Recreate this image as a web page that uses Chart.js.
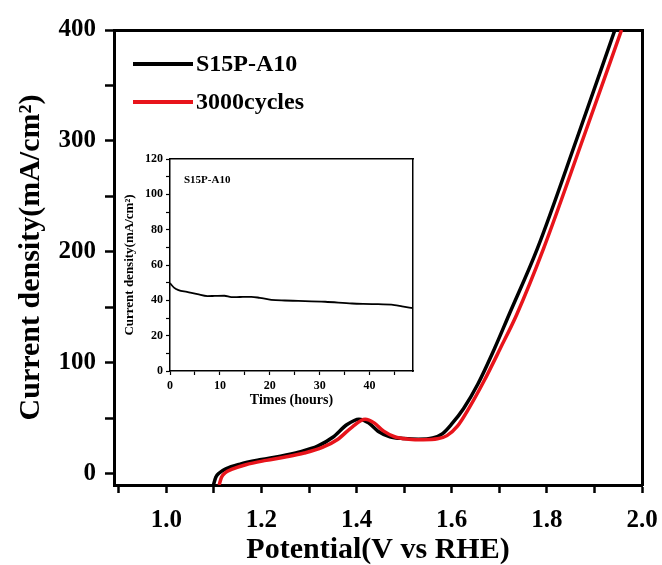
<!DOCTYPE html>
<html>
<head>
<meta charset="utf-8">
<script src="https://cdn.jsdelivr.net/npm/chart.js@4.4.1/dist/chart.umd.min.js"></script>
<style>
  body { margin: 0; background: #fff; }
  #wrap { position: relative; width: 662px; height: 565px; background: #fff; }
  #main { position: absolute; left: 0; top: 0; }
  #inset { position: absolute; left: 100px; top: 140px; }
</style>
</head>
<body>
<div id="wrap">
  <canvas id="main" width="662" height="565"></canvas>
  <canvas id="inset" width="330" height="280"></canvas>
</div>
<script>
// LSV curves, potential (V vs RHE) / current density (mA/cm2)
const seriesNames = ["S15P-A10", "3000cycles"];
const blackPotential = [1.099, 1.104, 1.112, 1.125, 1.155, 1.20, 1.24, 1.28, 1.318, 1.35, 1.38, 1.405, 1.425, 1.445, 1.47, 1.50, 1.53, 1.56, 1.58, 1.60, 1.625, 1.655, 1.69, 1.72, 1.78, 1.863, 1.943];
const blackCurrent   = [-10, -3, 1, 4.5, 8.8, 12.9, 15.9, 19.8, 25, 33, 44.5, 49.3, 46, 38.5, 33.5, 31.8, 31.2, 32.3, 36, 45, 59, 81, 113, 143, 203, 302, 400];
const redPotential   = [1.111, 1.116, 1.124, 1.137, 1.167, 1.21, 1.25, 1.29, 1.328, 1.36, 1.39, 1.418, 1.437, 1.457, 1.48, 1.51, 1.54, 1.57, 1.59, 1.612, 1.636, 1.667, 1.702, 1.736, 1.793, 1.876, 1.957];
const redCurrent     = [-10, -3, 1, 4, 8.3, 12.2, 15.2, 18.8, 23.8, 31, 42, 49.3, 46, 38.5, 33.5, 31.3, 30.8, 31.6, 34.5, 43, 59, 83, 113, 143, 203, 302, 400];
const potentialTicks = [1.0, 1.2, 1.4, 1.6, 1.8, 2.0];
const currentTicks = [0, 100, 200, 300, 400];

// inset: stability test
const insetName = "S15P-A10";
const hours = [0, 0.8, 1.7, 3.4, 5.5, 7.5, 9, 10.9, 12.3, 14, 16.3, 18, 20.3, 23, 25.7, 31.1, 36.5, 40.5, 45, 46.5, 48.7];
const insetCurrent = [49.7, 47.2, 45.8, 44.8, 43.5, 42.4, 42.5, 42.6, 41.8, 41.9, 42, 41.4, 40.3, 39.9, 39.7, 39.2, 38.2, 37.9, 37.3, 36.6, 35.6];
const hoursTicks = [0, 10, 20, 30, 40];
const insetCurrentTicks = [0, 20, 40, 60, 80, 100, 120];

const serif = "'Liberation Serif', 'Times New Roman', serif";
Chart.defaults.font.family = serif;
Chart.defaults.font.weight = 'bold';
Chart.defaults.color = '#000';

function toPoints(xs, ys) {
  return xs.map((x, i) => ({ x: x, y: ys[i] }));
}
function pickLabel(list, v, digits) {
  const t = list.find(t => Math.abs(t - v) < 1e-6);
  return t === undefined ? '' : t.toFixed(digits);
}
// fixed axis box size, no extra room for overhanging labels
function fixSize(prop, size) {
  return function (scale) {
    scale[prop] = size;
    scale.paddingLeft = 0;
    scale.paddingRight = 0;
    scale.paddingTop = 0;
    scale.paddingBottom = 0;
  };
}

const innerLegend = {
  id: 'innerLegend',
  afterDraw(chart) {
    const ctx = chart.ctx;
    ctx.save();
    ctx.font = 'bold 24px ' + serif;
    ctx.textBaseline = 'middle';
    chart.data.datasets.forEach((ds, i) => {
      const y = 64 + i * 38;
      ctx.strokeStyle = ds.borderColor;
      ctx.lineWidth = 4;
      ctx.beginPath();
      ctx.moveTo(133, y);
      ctx.lineTo(193, y);
      ctx.stroke();
      ctx.fillStyle = '#000';
      ctx.fillText(ds.label, 196, y + 1);
    });
    ctx.restore();
  }
};

new Chart(document.getElementById('main'), {
  type: 'line',
  data: {
    datasets: [
      {
        label: seriesNames[0],
        data: toPoints(blackPotential, blackCurrent),
        borderColor: '#000000',
        borderWidth: 3.5,
        pointRadius: 0,
        cubicInterpolationMode: 'monotone',
        order: 2,
        clip: 0
      },
      {
        label: seriesNames[1],
        data: toPoints(redPotential, redCurrent),
        borderColor: '#e8141b',
        borderWidth: 3.5,
        pointRadius: 0,
        cubicInterpolationMode: 'monotone',
        order: 1,
        clip: 0
      }
    ]
  },
  options: {
    responsive: false,
    animation: false,
    devicePixelRatio: 1,
    layout: { padding: 0 },
    plugins: { legend: { display: false }, tooltip: { enabled: false } },
    scales: {
      x: {
        type: 'linear',
        position: 'bottom',
        min: 0.89,
        max: 2.0,
        afterFit: fixSize('height', 80),
        border: { color: '#000', width: 3 },
        grid: { drawOnChartArea: false, tickLength: 8, tickWidth: 2.5, tickColor: '#000' },
        ticks: {
          stepSize: 0.1,
          includeBounds: false,
          maxRotation: 0,
          autoSkip: false,
          padding: 13,
          font: { size: 25, weight: 'bold' },
          callback: v => pickLabel(potentialTicks, v, 1)
        },
        title: {
          display: true,
          text: 'Potential(V vs RHE)',
          font: { size: 30, weight: 'bold' },
          padding: { top: 0, bottom: -3 }
        }
      },
      y: {
        type: 'linear',
        position: 'left',
        min: -10,
        max: 400,
        afterFit: fixSize('width', 114),
        border: { color: '#000', width: 3 },
        grid: { drawOnChartArea: false, tickLength: 9, tickWidth: 2.5, tickColor: '#000' },
        ticks: {
          stepSize: 50,
          includeBounds: false,
          autoSkip: false,
          padding: 9,
          font: { size: 25, weight: 'bold' },
          callback: v => pickLabel(currentTicks, v, 0)
        },
        title: {
          display: true,
          text: 'Current density(mA/cm²)',
          font: { size: 30, weight: 'bold' },
          padding: { top: 13, bottom: 0 }
        }
      },
      xTop: {
        type: 'linear',
        position: 'top',
        min: 0.89,
        max: 2.0,
        afterFit: fixSize('height', 30),
        border: { color: '#000', width: 3 },
        grid: { display: false },
        ticks: { display: false }
      },
      yRight: {
        type: 'linear',
        position: 'right',
        min: -10,
        max: 400,
        afterFit: fixSize('width', 20),
        border: { color: '#000', width: 3 },
        grid: { display: false },
        ticks: { display: false }
      }
    }
  },
  plugins: [innerLegend]
});

const insetLabel = {
  id: 'insetLabel',
  afterDraw(chart) {
    const ctx = chart.ctx;
    ctx.save();
    ctx.font = 'bold 11px ' + serif;
    ctx.textBaseline = 'middle';
    ctx.fillStyle = '#000';
    ctx.fillText(insetName, chart.chartArea.left + 14, chart.chartArea.top + 21);
    ctx.restore();
  }
};

new Chart(document.getElementById('inset'), {
  type: 'line',
  data: {
    datasets: [{
      label: insetName,
      data: toPoints(hours, insetCurrent),
      borderColor: '#000',
      borderWidth: 1.8,
      pointRadius: 0,
      cubicInterpolationMode: 'monotone',
      clip: 0
    }]
  },
  options: {
    responsive: false,
    animation: false,
    devicePixelRatio: 1,
    layout: { padding: 0 },
    plugins: { legend: { display: false }, tooltip: { enabled: false } },
    scales: {
      x: {
        type: 'linear',
        position: 'bottom',
        min: 0,
        max: 48.7,
        afterFit: fixSize('height', 49),
        border: { color: '#000', width: 1.5 },
        grid: { drawOnChartArea: false, tickLength: 4, tickWidth: 1.2, tickColor: '#000' },
        ticks: {
          stepSize: 5,
          includeBounds: false,
          maxRotation: 0,
          autoSkip: false,
          padding: 4,
          font: { size: 12, weight: 'bold' },
          callback: v => pickLabel(hoursTicks, v, 0)
        },
        title: {
          display: true,
          text: 'Times (hours)',
          font: { size: 14, weight: 'bold' },
          padding: { top: 0, bottom: 11 }
        }
      },
      y: {
        type: 'linear',
        position: 'left',
        min: 0,
        max: 120,
        afterFit: fixSize('width', 70),
        border: { color: '#000', width: 1.5 },
        grid: { drawOnChartArea: false, tickLength: 4, tickWidth: 1.2, tickColor: '#000' },
        ticks: {
          stepSize: 10,
          autoSkip: false,
          padding: 3,
          font: { size: 12, weight: 'bold' },
          callback: v => pickLabel(insetCurrentTicks, v, 0)
        },
        title: {
          display: true,
          text: 'Current density(mA/cm²)',
          font: { size: 13, weight: 'bold' },
          padding: { top: 22, bottom: 0 }
        }
      },
      xTop: {
        type: 'linear',
        position: 'top',
        min: 0,
        max: 48.7,
        afterFit: fixSize('height', 19),
        border: { color: '#000', width: 1.5 },
        grid: { display: false },
        ticks: { display: false }
      },
      yRight: {
        type: 'linear',
        position: 'right',
        min: 0,
        max: 120,
        afterFit: fixSize('width', 17),
        border: { color: '#000', width: 1.5 },
        grid: { display: false },
        ticks: { display: false }
      }
    }
  },
  plugins: [insetLabel]
});
</script>
</body>
</html>
